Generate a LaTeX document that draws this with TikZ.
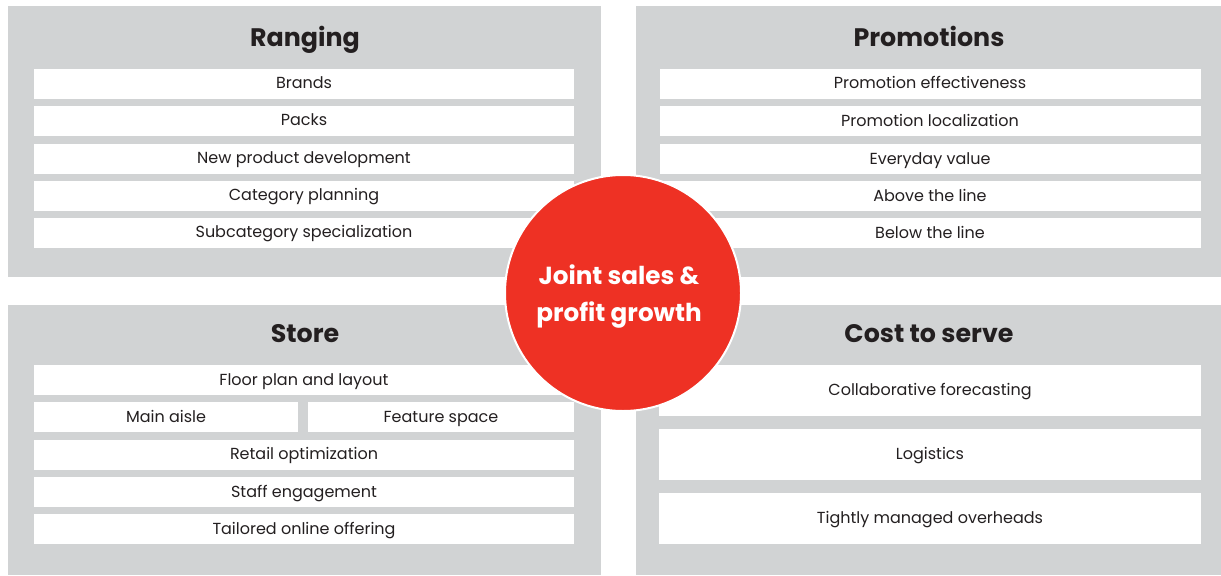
\documentclass[tikz,border=0pt]{standalone}
\usepackage{fontspec}
\setmainfont{Poppins}
\definecolor{panelgray}{RGB}{209,211,212}
\definecolor{jointred}{RGB}{238,49,36}
\definecolor{inkgray}{RGB}{35,31,32}
\tikzset{every picture/.style={line width=0.75pt}}
\tikzset{
  rowtext/.style={text=inkgray, text height=0.75em, text depth=0.2em, yshift=-1.5pt, font=\fontsize{12}{14}\selectfont},
  headtext/.style={text=inkgray, text height=0.75em, text depth=0.2em, yshift=-3.75pt, font=\fontsize{19}{23}\selectfont\bfseries},
  circtext/.style={text=white, align=center, yshift=-2pt, font=\fontsize{18.5}{28}\selectfont\bfseries}
}

\begin{document}
\begin{tikzpicture}[x=0.75pt,y=0.75pt,yscale=-1,xscale=1]
	\useasboundingbox (0,0) rectangle (1221,575);

	%Shape: Rectangle [Ranging]
	\draw  [draw opacity=0][fill=panelgray] (8,6) -- (601,6) -- (601,277) -- (8,277) -- cycle ;
	%Shape: Rectangle [Promotions]
	\draw  [draw opacity=0][fill=panelgray] (636,6) -- (1221,6) -- (1221,277) -- (636,277) -- cycle ;
	%Shape: Rectangle [Store]
	\draw  [draw opacity=0][fill=panelgray] (8,305) -- (601,305) -- (601,575) -- (8,575) -- cycle ;
	%Shape: Rectangle [Cost to serve]
	\draw  [draw opacity=0][fill=panelgray] (636,305) -- (1221,305) -- (1221,575) -- (636,575) -- cycle ;

	%Shape: Rectangle rows, Ranging
	\draw  [draw opacity=0][fill=white] (34,69) -- (574,69) -- (574,99) -- (34,99) -- cycle ;
	\draw  [draw opacity=0][fill=white] (34,106) -- (574,106) -- (574,136) -- (34,136) -- cycle ;
	\draw  [draw opacity=0][fill=white] (34,144) -- (574,144) -- (574,174) -- (34,174) -- cycle ;
	\draw  [draw opacity=0][fill=white] (34,181) -- (574,181) -- (574,211) -- (34,211) -- cycle ;
	\draw  [draw opacity=0][fill=white] (34,218) -- (574,218) -- (574,248) -- (34,248) -- cycle ;
	%Shape: Rectangle rows, Promotions
	\draw  [draw opacity=0][fill=white] (660,69) -- (1201,69) -- (1201,99) -- (660,99) -- cycle ;
	\draw  [draw opacity=0][fill=white] (660,106) -- (1201,106) -- (1201,136) -- (660,136) -- cycle ;
	\draw  [draw opacity=0][fill=white] (660,144) -- (1201,144) -- (1201,174) -- (660,174) -- cycle ;
	\draw  [draw opacity=0][fill=white] (660,181) -- (1201,181) -- (1201,211) -- (660,211) -- cycle ;
	\draw  [draw opacity=0][fill=white] (660,218) -- (1201,218) -- (1201,248) -- (660,248) -- cycle ;
	%Shape: Rectangle rows, Store
	\draw  [draw opacity=0][fill=white] (34,365) -- (574,365) -- (574,395) -- (34,395) -- cycle ;
	\draw  [draw opacity=0][fill=white] (34,402) -- (298,402) -- (298,432) -- (34,432) -- cycle ;
	\draw  [draw opacity=0][fill=white] (308,402) -- (574,402) -- (574,432) -- (308,432) -- cycle ;
	\draw  [draw opacity=0][fill=white] (34,440) -- (574,440) -- (574,470) -- (34,470) -- cycle ;
	\draw  [draw opacity=0][fill=white] (34,477) -- (574,477) -- (574,507) -- (34,507) -- cycle ;
	\draw  [draw opacity=0][fill=white] (34,514) -- (574,514) -- (574,544) -- (34,544) -- cycle ;
	%Shape: Rectangle rows, Cost to serve
	\draw  [draw opacity=0][fill=white] (659,365) -- (1201,365) -- (1201,416) -- (659,416) -- cycle ;
	\draw  [draw opacity=0][fill=white] (659,429) -- (1201,429) -- (1201,480) -- (659,480) -- cycle ;
	\draw  [draw opacity=0][fill=white] (659,493) -- (1201,493) -- (1201,544) -- (659,544) -- cycle ;

	%Shape: Circle [id:joint]
	\draw  [draw=white,line width=1.5][fill=jointred] (623,293) circle [radius=118] ;

	% Text Node
	\draw (305,38) node [headtext] (ranging) {Ranging};
	% Text Node
	\draw (929,38) node [headtext] (promotions) {Promotions};
	% Text Node
	\draw (305,334) node [headtext] (store) {Store};
	% Text Node
	\draw (929,334) node [headtext] (costserve) {Cost to serve};

	% Text Node
	\draw (304,83) node [rowtext] (brands) {Brands};
	% Text Node
	\draw (304,120) node [rowtext] (packs) {Packs};
	% Text Node
	\draw (304,158) node [rowtext] (newprod) {New product development};
	% Text Node
	\draw (304,195) node [rowtext] (catplan) {Category planning};
	% Text Node
	\draw (304,232) node [rowtext] (subcat) {Subcategory specialization};

	% Text Node
	\draw (930,83) node [rowtext] (promoeff) {Promotion effectiveness};
	% Text Node
	\draw (930,121) node [rowtext] (promoloc) {Promotion localization};
	% Text Node
	\draw (930,159) node [rowtext] (everyday) {Everyday value};
	% Text Node
	\draw (930,196) node [rowtext] (aboveline) {Above the line};
	% Text Node
	\draw (930,233) node [rowtext] (belowline) {Below the line};

	% Text Node
	\draw (304,380) node [rowtext] (floorplan) {Floor plan and layout};
	% Text Node
	\draw (166,417) node [rowtext] (mainaisle) {Main aisle};
	% Text Node
	\draw (441,417) node [rowtext] (feature) {Feature space};
	% Text Node
	\draw (304,454) node [rowtext] (retailopt) {Retail optimization};
	% Text Node
	\draw (304,492) node [rowtext] (staff) {Staff engagement};
	% Text Node
	\draw (304,529) node [rowtext] (tailored) {Tailored online offering};

	% Text Node
	\draw (930,390) node [rowtext] (collab) {Collaborative forecasting};
	% Text Node
	\draw (930,454) node [rowtext] (logistics) {Logistics};
	% Text Node
	\draw (930,518) node [rowtext] (overheads) {Tightly managed overheads};

	% Text Node
	\draw (619,294) node [circtext] (jointtext) {Joint sales \&\\profit growth};

\end{tikzpicture}
\end{document}
